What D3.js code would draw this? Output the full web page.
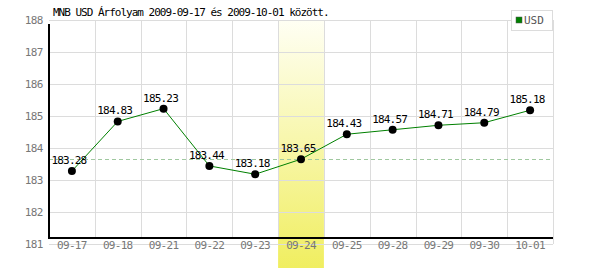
<!DOCTYPE html>
<html lang="hu">
<head>
  <meta charset="UTF-8">
  <title>MNB USD</title>
  <script src="https://d3js.org/d3.v7.min.js"></script>
  <style>
    body { margin: 0; background: #fff; }
    text { font-family: "DejaVu Sans Mono", monospace; }
  </style>
</head>
<body>
  <div id="container"></div>
  <script>
    var dates = ["09-17", "09-18", "09-21", "09-22", "09-23", "09-24", "09-25", "09-28", "09-29", "09-30", "10-01"];
    var usd = [183.28, 184.83, 185.23, 183.44, 183.18, 183.65, 184.43, 184.57, 184.71, 184.79, 185.18];
    var yTicks = [181, 182, 183, 184, 185, 186, 187, 188];
    var highlight = "09-24";
    var title = "MNB USD Árfolyam 2009-09-17 és 2009-10-01 között.";

    var width = 600, height = 270,
      plotLeft = 49, plotRight = 553, plotTop = 20, axisY = 238, plotBottom = 244;

    var svg = d3.select("#container").append("svg")
      .attr("width", width)
      .attr("height", height);

    var x = d3.scaleBand().domain(dates).range([plotLeft, plotRight]);
    var y = d3.scaleLinear().domain([181, 188]).range([plotBottom, plotTop]);
    var cx = d => x(d) + x.bandwidth() / 2;

    // gradient for highlighted day
    var grad = svg.append("defs").append("linearGradient")
      .attr("id", "hl").attr("x1", 0).attr("y1", 0).attr("x2", 0).attr("y2", 1);
    grad.append("stop").attr("offset", "0%").attr("stop-color", "#fffff4");
    grad.append("stop").attr("offset", "100%").attr("stop-color", "#f0ee60");

    svg.append("rect")
      .attr("x", x(highlight))
      .attr("y", plotTop)
      .attr("width", x.bandwidth())
      .attr("height", 268 - plotTop)
      .attr("fill", "url(#hl)");

    // horizontal grid
    svg.selectAll(".hgrid")
      .data(yTicks)
      .enter().append("line")
      .attr("x1", plotLeft).attr("x2", plotRight)
      .attr("y1", d => Math.round(y(d)) + 0.5).attr("y2", d => Math.round(y(d)) + 0.5)
      .attr("stroke", "#dcdcdc");

    // vertical grid
    svg.selectAll(".vgrid")
      .data(dates)
      .enter().append("line")
      .attr("x1", (d, i) => Math.round(plotLeft + (i + 1) * x.step()) + 0.5)
      .attr("x2", (d, i) => Math.round(plotLeft + (i + 1) * x.step()) + 0.5)
      .attr("y1", plotTop)
      .attr("y2", (d, i) => i == dates.length - 1 ? plotBottom : axisY)
      .attr("stroke", "#dcdcdc");

    // reference dashed line at highlighted value
    var hv = usd[dates.indexOf(highlight)];
    svg.append("line")
      .attr("x1", plotLeft).attr("x2", plotRight)
      .attr("y1", Math.round(y(hv)) + 0.5).attr("y2", Math.round(y(hv)) + 0.5)
      .attr("stroke", "#a0c8a0")
      .attr("stroke-dasharray", "4,3");

    // axes
    svg.append("line")
      .attr("x1", plotLeft).attr("x2", plotLeft)
      .attr("y1", 24).attr("y2", axisY + 1)
      .attr("stroke", "#000").attr("stroke-width", 2);
    svg.append("line")
      .attr("x1", plotLeft).attr("x2", plotRight)
      .attr("y1", axisY).attr("y2", axisY)
      .attr("stroke", "#000").attr("stroke-width", 2);

    svg.selectAll(".ylab")
      .data(yTicks)
      .enter().append("text")
      .attr("x", 43)
      .attr("y", d => y(d) + 1)
      .attr("text-anchor", "end")
      .attr("dominant-baseline", "middle")
      .attr("font-size", 11)
      .attr("letter-spacing", -0.5)
      .attr("fill", "#777")
      .text(d => d);

    svg.selectAll(".xlab")
      .data(dates)
      .enter().append("text")
      .attr("x", cx)
      .attr("y", 246)
      .attr("text-anchor", "middle")
      .attr("dominant-baseline", "middle")
      .attr("font-size", 11)
      .attr("letter-spacing", -0.7)
      .attr("fill", "#777")
      .text(d => d);

    // line
    var line = d3.line()
      .x((d, i) => cx(dates[i]))
      .y(d => y(d));
    svg.append("path")
      .attr("d", line(usd))
      .attr("fill", "none")
      .attr("stroke", "#008000")
      .attr("stroke-width", 1);

    svg.selectAll(".pt")
      .data(usd)
      .enter().append("circle")
      .attr("cx", (d, i) => cx(dates[i]))
      .attr("cy", d => y(d))
      .attr("r", 4)
      .attr("fill", "#000");

    svg.selectAll(".vlab")
      .data(usd)
      .enter().append("text")
      .attr("x", (d, i) => cx(dates[i]) - 3)
      .attr("y", d => y(d) - 10)
      .attr("text-anchor", "middle")
      .attr("dominant-baseline", "middle")
      .attr("font-size", 11)
      .attr("letter-spacing", -0.8)
      .attr("fill", "#000")
      .text(d => d.toFixed(2));

    // title
    svg.append("text")
      .attr("x", 53)
      .attr("y", 13)
      .attr("dominant-baseline", "middle")
      .attr("font-size", 11)
      .attr("letter-spacing", -1)
      .attr("fill", "#000")
      .text(title);

    // legend
    var lg = svg.append("g").attr("transform", "translate(511,10)");
    lg.append("rect")
      .attr("x", 0.5).attr("y", 0.5)
      .attr("width", 41).attr("height", 20)
      .attr("fill", "#fff").attr("stroke", "#dcdcdc");
    lg.append("rect")
      .attr("x", 5).attr("y", 7)
      .attr("width", 6).attr("height", 6)
      .attr("fill", "#008000").attr("stroke", "#555").attr("stroke-width", 0.5);
    lg.append("text")
      .attr("x", 13).attr("y", 11)
      .attr("dominant-baseline", "middle")
      .attr("font-family", "Liberation Sans, sans-serif")
      .attr("font-size", 11)
      .attr("fill", "#555")
      .text("USD");
  </script>
</body>
</html>
